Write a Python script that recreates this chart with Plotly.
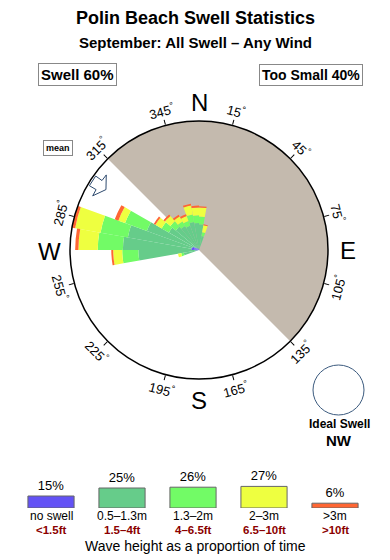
import numpy as np
import plotly.graph_objects as go

# ---------------- data ----------------
directions = [255, 265, 275, 285, 295, 305, 315, 325, 335, 345, 355, 5, 15]
# segment thickness per height class (radial units, circle = 100)
no_swell   = [0.0, 3.0, 6.0, 6.0, 5.0, 3.0, 2.0, 1.5, 1.0, 1.0, 1.0, 1.0, 0.0]
h_05_13    = [12.0, 44.0, 53.0, 50.0, 38.0, 24.0, 21.5, 20.0, 19.0, 21.0, 20.0, 19.0, 11.0]
h_13_20    = [2.0, 12.5, 19.5, 21.5, 18.0, 6.5, 5.5, 4.0, 4.0, 6.0, 6.0, 6.0, 3.0]
h_20_30    = [2.5, 7.0, 15.0, 20.0, 5.5, 5.5, 5.5, 4.5, 4.0, 7.0, 6.0, 7.0, 5.5]
h_gt_30    = [0.0, 1.5, 2.5, 4.0, 3.0, 1.5, 1.5, 1.5, 1.5, 1.5, 1.5, 1.0, 0.8]

class_names  = ["no swell", "0.5–1.3m", "1.3–2m", "2–3m", ">3m"]
class_feet   = ["<1.5ft", "1.5–4ft", "4–6.5ft", "6.5–10ft", ">10ft"]
class_pct    = [15, 25, 26, 27, 6]
class_colors = ["#6352f5", "#66cc8a", "#72fb66", "#eeff40", "#ff6633"]

land_center, land_width = 45, 180      # shore sector (degrees)
mean_direction = 303
tick_angles = [15, 45, 75, 105, 135, 165, 195, 225, 255, 285, 315, 345]
compass = [("N", 0), ("E", 90), ("S", 180), ("W", 270)]
swell_pct, small_pct = 60, 40
ideal = "NW"

FONT = "Liberation Sans, Arial, Helvetica, sans-serif"
W, H = 390, 560
cx, cy, R = 199, 250, 129  # polar centre / radius in px

fig = go.Figure()

# land sector
fig.add_trace(go.Barpolar(theta=[land_center], r=[100], width=[land_width], base=[0],
                          marker=dict(color="#c4baae", line=dict(width=0)),
                          showlegend=False, hoverinfo="skip"))

segments = [no_swell, h_05_13, h_13_20, h_20_30, h_gt_30]
base = np.zeros(len(directions))
for seg, col, name in zip(segments, class_colors, class_names):
    seg = np.array(seg)
    fig.add_trace(go.Barpolar(theta=directions, r=seg, base=base.copy(), width=[10]*len(directions),
                              marker=dict(color=col, line=dict(width=0)),
                              name=name, showlegend=False))
    base = base + seg

# mean arrow (pointing inward, near the rim)
m = mean_direction
ar_r = [86, 92.5, 92.5, 98.5, 98.5, 92.5, 92.5, 86]
ar_t = [m, m - 6, m - 2.6, m - 2.6, m + 2.6, m + 2.6, m + 6, m]
fig.add_trace(go.Scatterpolar(r=ar_r, theta=ar_t, mode="lines", fill="toself",
                              fillcolor="white", line=dict(color="#2e4a6e", width=1),
                              showlegend=False, hoverinfo="skip"))

# legend bars
fig.add_trace(go.Bar(x=class_names, y=class_pct, marker=dict(color=class_colors,
                     line=dict(color="#666666", width=1)),
                     text=[f"{p}%" for p in class_pct], textposition="outside",
                     textfont=dict(family=FONT, size=13, color="black"),
                     cliponaxis=False, showlegend=False, xaxis="x", yaxis="y"))

ann = []
def px(x, y):
    return x / W, 1 - y / H

def A(**kw):
    d = dict(showarrow=False, xanchor="center", yanchor="middle")
    d.update(kw)
    ann.append(d)

# title
for txt, y, size in [("Polin Beach Swell Statistics", 18, 18),
                     ("September: All Swell – Any Wind", 43, 15)]:
    A(x=0.5, y=1 - y / H, xref="paper", yref="paper", text=f"<b>{txt}</b>",
      font=dict(family=FONT, size=size, color="black"))
# swell / too small boxes
for txt, x, size in [(f"Swell {swell_pct}%", 77, 15), (f"Too Small {small_pct}%", 311, 14)]:
    xx, yy = px(x, 75)
    A(x=xx, y=yy, xref="paper", yref="paper", text=f"<b>{txt}</b>",
      font=dict(family=FONT, size=size, color="black"), bordercolor="#888888",
      borderwidth=1, borderpad=2, bgcolor="white")
# mean label
xx, yy = px(58, 148)
A(x=xx, y=yy, xref="paper", yref="paper", text="<b>mean</b>",
  font=dict(family=FONT, size=9, color="black"), bordercolor="#888888",
  borderwidth=1, borderpad=2)
# angle labels
for a in tick_angles:
    rad = np.deg2rad(a)
    x = cx + 144 * np.sin(rad)
    y = cy - 144 * np.cos(rad)
    if 90 < a < 270:
        ta = a - 180
    elif a >= 270:
        ta = a - 360
    else:
        ta = a
    xx, yy = px(x, y)
    A(x=xx, y=yy, xref="paper", yref="paper", text=f"{a}<sup>°</sup>",
      textangle=ta, font=dict(family=FONT, size=13, color="black"))
# compass letters
for lab, a in compass:
    rad = np.deg2rad(a)
    rr = 149
    x = cx + rr * np.sin(rad)
    y = cy - rr * np.cos(rad) + 1
    xx, yy = px(x, y)
    A(x=xx, y=yy, xref="paper", yref="paper", text=lab,
      font=dict(family=FONT, size=24, color="black"))
# ideal swell
for txt, y, size in [("Ideal Swell", 424, 12), (ideal, 440, 15)]:
    xx, yy = px(339, y)
    A(x=xx, y=yy, xref="paper", yref="paper", text=f"<b>{txt}</b>",
      font=dict(family=FONT, size=size, color="black"))
# legend labels under bars
for name, ft in zip(class_names, class_feet):
    A(x=name, y=1 - 516 / H, xref="x", yref="paper", text=name, borderpad=0,
      font=dict(family=FONT, size=12, color="black"))
    A(x=name, y=1 - 530 / H, xref="x", yref="paper", borderpad=0,
      text=f"<b>{ft.replace('<', '&lt;').replace('>', '&gt;')}</b>",
      font=dict(family=FONT, size=11.5, color="#8b0000"))
A(x=0.5, y=1 - 546 / H, xref="paper", yref="paper", borderpad=0,
  text="Wave height as a proportion of time",
  font=dict(family=FONT, size=14, color="black"))

shapes = [dict(type="circle", xref="paper", yref="paper",
               x0=313 / W, x1=364 / W, y0=1 - 415 / H, y1=1 - 365 / H,
               line=dict(color="#3b5a7e", width=1))]

fig.update_layout(
    width=W, height=H, margin=dict(l=0, r=0, t=0, b=0),
    paper_bgcolor="white", plot_bgcolor="white",
    font=dict(family=FONT),
    annotations=ann, shapes=shapes,
    polar=dict(
        domain=dict(x=[(cx - R) / W, (cx + R) / W], y=[1 - (cy + R) / H, 1 - (cy - R) / H]),
        bgcolor="white", barmode="overlay", bargap=0,
        angularaxis=dict(rotation=90, direction="clockwise", showgrid=False, showline=True,
                         linecolor="black", linewidth=1.5, ticks="outside", ticklen=5,
                         tickcolor="black", tickvals=tick_angles, showticklabels=False),
        radialaxis=dict(range=[0, 100], visible=False),
    ),
    xaxis=dict(domain=[15.5 / W, 370.5 / W], showticklabels=False, showgrid=False,
               zeroline=False, showline=False, ticks=""),
    yaxis=dict(domain=[1 - 508 / H, 1 - 476 / H], range=[0, 40], showticklabels=False,
               showgrid=False, zeroline=False, showline=False, ticks=""),
    bargap=0.35,
)

fig.write_html("out.html")
